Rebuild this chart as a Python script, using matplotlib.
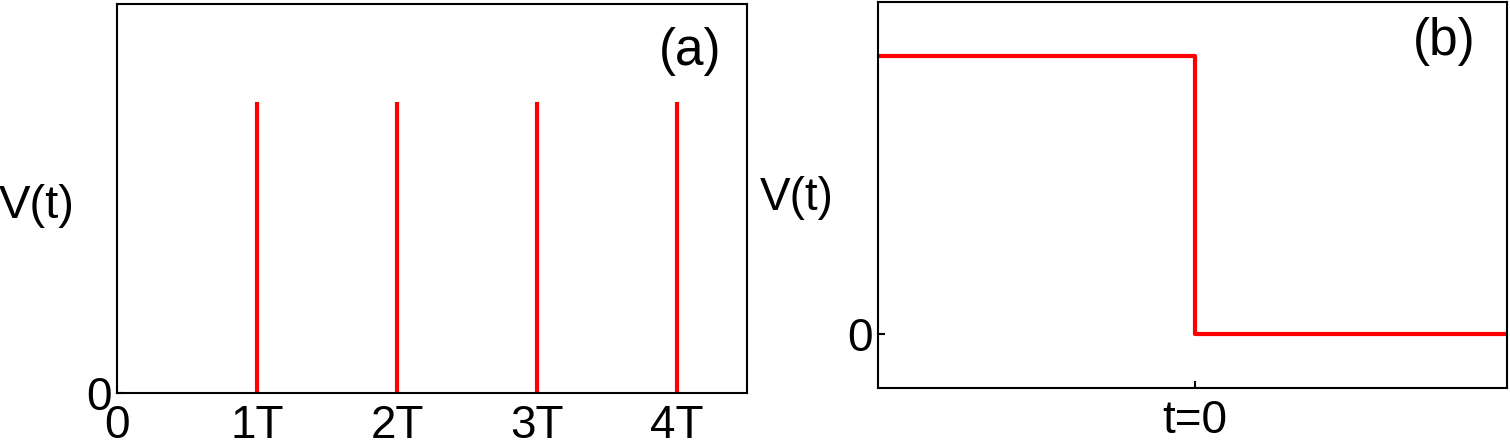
import matplotlib.pyplot as plt

plt.rcParams['font.family'] = ['Liberation Sans', 'DejaVu Sans']

# panel (a): periodic kicks
kick_times = [1, 2, 3, 4]
kick_height = [1, 1, 1, 1]
a_ticks = [0, 1, 2, 3, 4]
a_ticklabels = ['0', '1T', '2T', '3T', '4T']

# panel (b): quench
step_t = [-1, 0, 0, 1.2]
step_v = [1, 1, 0, 0]

W, H = 1510, 445
fig = plt.figure(figsize=(W / 100, H / 100), dpi=100)

ax1 = fig.add_axes([117 / W, (H - 393) / H, 630 / W, 389 / H])
ax1.vlines(kick_times, 0, kick_height, color='red', lw=3)
ax1.set_xlim(0, 4.5)
ax1.set_ylim(0, 1.337)
ax1.set_xticks(a_ticks)
ax1.set_xticklabels(a_ticklabels)
ax1.set_yticks([0])
ax1.tick_params(direction='in', length=5, width=1.5, labelsize=33)
ax1.tick_params(axis='x', pad=8)
ax1.tick_params(axis='y', pad=4)
ax1.set_ylabel('V(t)', fontsize=34, rotation=0, ha='center', va='center')
ax1.yaxis.set_label_coords(-0.128, 0.48)
ax1.text(0.9095, 0.879, '(a)', transform=ax1.transAxes, fontsize=37,
         ha='center', va='center')

ax2 = fig.add_axes([878 / W, (H - 388) / H, 629 / W, 386 / H])
ax2.plot(step_t, step_v, color='red', lw=3)
ax2.set_xlim(-1, 0.985)
ax2.set_ylim(-0.194, 1.194)
ax2.set_xticks([0])
ax2.set_xticklabels(['t=0'])
ax2.set_yticks([0])
ax2.tick_params(direction='in', length=5, width=1.5, labelsize=33)
ax2.tick_params(axis='x', pad=8)
ax2.tick_params(axis='y', pad=4)
ax2.set_ylabel('V(t)', fontsize=33, rotation=0, ha='center', va='center')
ax2.yaxis.set_label_coords(-0.129, 0.492)
ax2.text(0.9, 0.898, '(b)', transform=ax2.transAxes, fontsize=37,
         ha='center', va='center')

for ax in (ax1, ax2):
    for s in ax.spines.values():
        s.set_linewidth(1.5)

fig.savefig('out.png', dpi=100)
